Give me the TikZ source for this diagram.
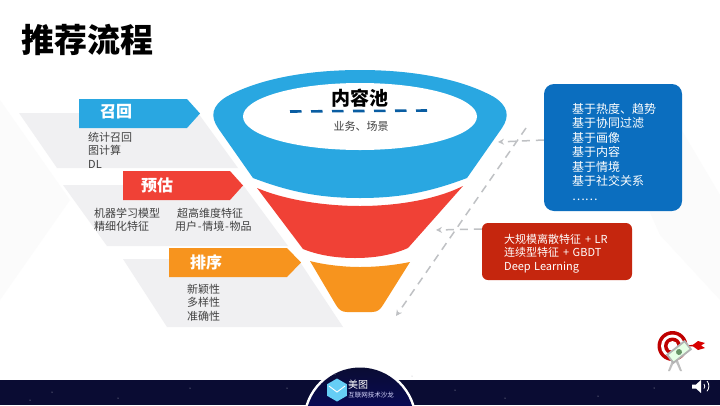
\documentclass[tikz,border=0pt]{standalone}
\usepackage{fontspec}
\setmainfont{Noto Sans CJK SC}
\usetikzlibrary{arrows.meta,shapes.geometric,shadings}
\definecolor{fblue}{HTML}{29A7E1}
\definecolor{fred}{HTML}{F04136}
\definecolor{forange}{HTML}{F7941E}
\definecolor{greyband}{HTML}{F0F0F2}
\definecolor{navy}{HTML}{0A0C33}
\definecolor{boxblue}{HTML}{0B6EBF}
\definecolor{boxred}{HTML}{C5260E}
\definecolor{txt}{HTML}{404040}
\definecolor{dashgrey}{HTML}{BFC1C4}
\definecolor{softgrey}{HTML}{FBFBFB}
\tikzset{
  x=1pt,y=-1pt,
  label text/.style={font=\fontsize{11}{13.3}\selectfont,text=txt,anchor=north west,align=left,inner sep=0pt},
  box text/.style={font=\fontsize{12}{14.5}\selectfont,text=white,anchor=north west,align=left,inner sep=0pt},
  stage text/.style={font=\fontsize{16}{18}\selectfont\bfseries,text=white,inner sep=0pt},
  grey plate/.style={fill=greyband,draw=none},
  soft plate/.style={fill=softgrey,draw=none},
  link/.style={draw=dashgrey,line width=1.5pt,dash pattern=on 8pt off 6pt,-{Stealth[length=6pt,width=6pt]}},
  info box/.style={draw=none,rounded corners=#1,inner sep=0pt}
}
\begin{document}
\begin{tikzpicture}
\useasboundingbox (0,0) rectangle (720,405);
\fill[white] (0,0) rectangle (720,405);
% faint background facets
\fill[soft plate] (0,100) -- (70,200) -- (0,300) -- cycle;
\fill[soft plate] (655,85) -- (720,195) -- (720,300) -- (660,235) -- (640,190) -- cycle;
% title
\node (title) at (21,40) [anchor=west,font=\fontsize{33}{36}\selectfont\bfseries,text=black,inner sep=0pt] {推荐流程};
% grey plates
\fill[grey plate] (19,113) -- (198,113) -- (238,168) -- (57,168) -- cycle;
\fill[grey plate] (63,185) -- (243,185) -- (288,246) -- (107,246) -- cycle;
\fill[grey plate] (123,259) -- (298,259) -- (343,327) -- (167,327) -- cycle;
% funnel
\fill[fblue] (253,178) -- (218,128) .. controls (210,116) and (212,106) .. (226,97)
  .. controls (260,78) and (310,70) .. (360,70)
  .. controls (410,70) and (460,78) .. (494,97)
  .. controls (508,106) and (510,116) .. (502,128) -- (467,178)
  .. controls (430,192) and (400,198) .. (360,198)
  .. controls (320,198) and (290,192) .. (253,178) -- cycle;
\fill[white] (360,116.5) ellipse [x radius=117,y radius=33.5];
\fill[fred] (257,188) .. controls (285,200) and (325,206) .. (360,206)
  .. controls (395,206) and (435,200) .. (463,186) -- (408,248)
  .. controls (392,255) and (375,258) .. (355,258)
  .. controls (335,258) and (318,255) .. (303,249) -- cycle;
\fill[forange] (310,261) .. controls (325,265) and (345,267) .. (360,267)
  .. controls (378,267) and (395,265) .. (410,262) -- (383,305)
  .. controls (380,310) and (377,312) .. (372,312) -- (347,312)
  .. controls (342,312) and (339,310) .. (336,305) -- cycle;
\draw[draw=boxblue!85!black,line width=2.6pt,dash pattern=on 11.5pt off 9.5pt] (290,111.5) -- (427,110.5);
\node (pool) at (360,98) [font=\fontsize{19}{21}\selectfont\bfseries,text=black,inner sep=0pt] {内容池};
\node (poolsub) at (361,126) [font=\fontsize{11}{13}\selectfont,text=txt,inner sep=0pt] {业务、场景};
% stage arrows
\fill[fblue] (79,99) -- (187,99) -- (200,113.5) -- (187,128) -- (79,128) -- cycle;
\fill[fred] (123,171) -- (230,171) -- (243,185.5) -- (230,200) -- (123,200) -- cycle;
\fill[forange] (169,248) -- (287,248) -- (301,262.5) -- (287,277) -- (169,277) -- cycle;
\node (recall) at (116,112) [stage text] {召回};
\node (estimate) at (157,185) [stage text] {预估};
\node (rank) at (206,262) [stage text] {排序};
% stage descriptions
\node (recalltext) at (88,132) [label text] {统计召回\\图计算\\DL};
\node (esttexta) at (94,207.5) [label text] {机器学习模型\\精细化特征};
\node (esttextb) at (175,207.5) [label text] {\,超高维度特征\\用户\kern0.7pt-\kern0.7pt情境\kern0.7pt-\kern0.7pt物品};
\node (ranktext) at (187,284) [label text] {新颖性\\多样性\\准确性};
% info boxes
\node (bluebox) at (613,147.5) [info box=10pt,fill=boxblue,minimum width=138pt,minimum height=127pt] {};
\node (redbox) at (557,251.5) [info box=6pt,fill=boxred,minimum width=150pt,minimum height=57pt] {};
\node (bluetext) at (572,103) [box text] {基于热度、趋势\\基于协同过滤\\基于画像\\基于内容\\基于情境\\基于社交关系\\……};
\node (redtext) at (504,234) [box text,font=\fontsize{11}{13.4}\selectfont] {大规模离散特征\kern1.5pt\ +\kern1pt\ LR\\连续型特征\kern1.5pt\ +\kern1pt\ GBDT\\Deep\kern1pt\ Learning};
% connectors
\coordinate (bluein) at (498,142);
\coordinate (redin) at (436,230);
\coordinate (diagtop) at (526,128);
\coordinate (diagend) at (396,316);
\draw[link] (bluebox.west |- 0,140) -- (bluein);
\draw[link] (redbox.west |- 0,229) -- (redin);
\draw[link] (diagtop) -- (diagend);
% bottom band
\fill[navy] (0,380) rectangle (720,405);
\fill[white] (360,422) circle [radius=57];
\begin{scope}
\clip (0,360) rectangle (720,405);
\shade[top color=navy,bottom color=blue!45!navy] (360,422) circle [radius=54.5];
\end{scope}
\foreach \sx/\sy in {52/392,118/398,190/388,287/388,455/390,598/396,654/388,30/400,505/398,412/376,335/374}
  \fill[white!70!navy] (\sx,\sy) circle [radius=0.5];
% logo
\node (logo) at (337,390) [regular polygon,regular polygon sides=6,shape border rotate=30,fill=cyan!60!white,minimum size=23pt,inner sep=0pt] {};
\draw[white,line width=0.9pt] (329,386) -- (337,392) -- (345,386);
\node (logotop) at (358,385) [font=\fontsize{10}{11}\selectfont,text=white,inner sep=0pt] {美图};
\node (logosub) at (371,395) [font=\fontsize{6.5}{8}\selectfont,text=white!85!blue,inner sep=0pt] {互联网技术沙龙};
% target
\fill[gray!50] (673,358) -- (668,371) -- (670,371) -- (675,360) -- (680,371) -- (682,371) -- (677,358) -- cycle;
\fill[red!75!black] (672.5,346) circle [radius=15];
\fill[white] (672.5,346) circle [radius=11.5];
\fill[red!75!black] (672.5,346) circle [radius=8.5];
\fill[white] (672.5,346) circle [radius=5];
\draw[red!75!black,line width=1.4pt] (680,346) -- (698,345.5);
\fill[red!85!black] (692,345.5) -- (698,341) -- (705,343) -- (701,345.5) -- (705,348) -- (698,350) -- cycle;
\fill[gray!60,rotate around={38:(679,352)}] (667,346) rectangle (691,358);
\fill[green!10!white,rotate around={38:(679,352)}] (669,348) rectangle (689,356);
\fill[green!30!black!60,rotate around={38:(679,352)}] (679,352) circle [radius=3];
% speaker
\fill[white] (692,384.5) -- (696,384.5) -- (701,380) -- (701,393) -- (696,388.5) -- (692,388.5) -- cycle;
\draw[white,line width=0.8pt] (704,384) arc [start angle=-35,end angle=35,radius=4];
\draw[white,line width=0.8pt] (707,381) arc [start angle=-40,end angle=40,radius=8];
\end{tikzpicture}
\end{document}
